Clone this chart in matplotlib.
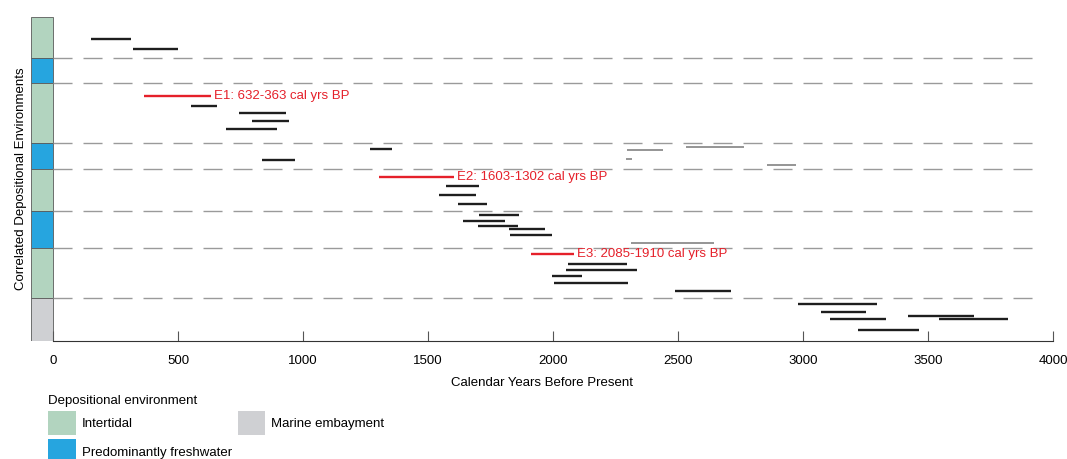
import matplotlib.pyplot as plt
from matplotlib.patches import Patch

plt.rcParams['font.family'] = ['Liberation Sans', 'DejaVu Sans']

# zone boundaries (position from top of column, arbitrary units) and environment
zone_edges = [0, 41, 66, 126, 152, 194, 231, 281, 324]
zone_env = ['Intertidal', 'Predominantly freshwater', 'Intertidal', 'Predominantly freshwater',
            'Intertidal', 'Predominantly freshwater', 'Intertidal', 'Marine embayment']
env_colors = {'Intertidal': '#b2d4bf', 'Predominantly freshwater': '#26a5df',
              'Marine embayment': '#cfd0d3'}

# age ranges (cal yrs BP) and column position of each dated sample
black_start = [152, 320, 552, 744, 796, 692, 836, 1268, 1572, 1544, 1620, 1704, 1640, 1700,
               1824, 1828, 2060, 2052, 1996, 2004, 2488, 2980, 3072, 3108, 3420, 3544, 3220]
black_end = [312, 500, 656, 932, 944, 896, 968, 1356, 1704, 1692, 1736, 1864, 1808, 1860,
             1968, 1996, 2296, 2336, 2116, 2300, 2712, 3296, 3252, 3332, 3684, 3820, 3464]
black_pos = [22, 32, 89, 96, 104, 112, 143, 132, 169, 178, 187, 198, 204, 209,
             212, 218, 247, 253, 259, 266, 274, 287, 295, 302, 299, 302, 313]

grey_start = [2296, 2292, 2532, 2856, 2312]
grey_end = [2440, 2316, 2764, 2972, 2644]
grey_pos = [133, 142, 130, 148, 226]

events = ['E1: 632-363 cal yrs BP', 'E2: 1603-1302 cal yrs BP', 'E3: 2085-1910 cal yrs BP']
event_start = [363, 1302, 1910]
event_end = [632, 1603, 2085]
event_pos = [79, 160, 237]

fs = 9.5

fig = plt.figure(figsize=(10.67, 4.59), dpi=100)
ax = fig.add_axes([0.0291, 0.2571, 0.9578, 0.7058])

# environment column
for i, env in enumerate(zone_env):
    ax.barh((zone_edges[i] + zone_edges[i + 1]) / 2, 88, left=-88,
            height=zone_edges[i + 1] - zone_edges[i], color=env_colors[env],
            edgecolor='#5a5a5a', linewidth=0.6)

# dashed zone boundaries
for b in zone_edges[1:-1]:
    ax.plot([0, 3950], [b, b], color='#9a9a9a', lw=1.0, ls=(0, (13.7, 7.9)))

ax.hlines(grey_pos, grey_start, grey_end, color='#8c8c8c', lw=1.3)
ax.hlines(black_pos, black_start, black_end, color='#1e1e1e', lw=1.7)
ax.hlines(event_pos, event_start, event_end, color='#e5202a', lw=1.7)
for lab, xe, y in zip(events, event_end, event_pos):
    ax.text(xe + 12, y, lab, color='#e5202a', fontsize=fs, va='center', ha='left')

ax.set_xlim(-88, 4000)
ax.set_ylim(324, 0)
ax.set_xticks([0, 500, 1000, 1500, 2000, 2500, 3000, 3500, 4000])
ax.tick_params(axis='x', direction='in', length=7, width=0.8, color='#555555',
               labelsize=fs, pad=10)
ax.set_yticks([])
for s in ['top', 'right', 'left']:
    ax.spines[s].set_visible(False)
ax.spines['bottom'].set_bounds(0, 4000)
ax.spines['bottom'].set_color('#333333')
ax.set_xlabel('Calendar Years Before Present', fontsize=fs, labelpad=7)
ax.set_ylabel('Correlated Depositional Environments', fontsize=fs)
ax.yaxis.set_label_coords(-0.0038, 0.5)

handles = [Patch(facecolor=env_colors[k]) for k in ['Intertidal', 'Predominantly freshwater',
                                                    'Marine embayment']]
leg = fig.legend(handles, ['Intertidal', 'Predominantly freshwater', 'Marine embayment'],
                 title='Depositional environment', ncol=2, loc='upper left',
                 bbox_to_anchor=(0.045, 0.1404), frameon=False, fontsize=fs,
                 title_fontsize=fs, handlelength=2.1, handleheight=2.5,
                 handletextpad=0.45, columnspacing=0.45, labelspacing=0.3,
                 borderpad=0, borderaxespad=0)
leg._legend_box.align = 'left'

fig.savefig('out.png', dpi=100)
